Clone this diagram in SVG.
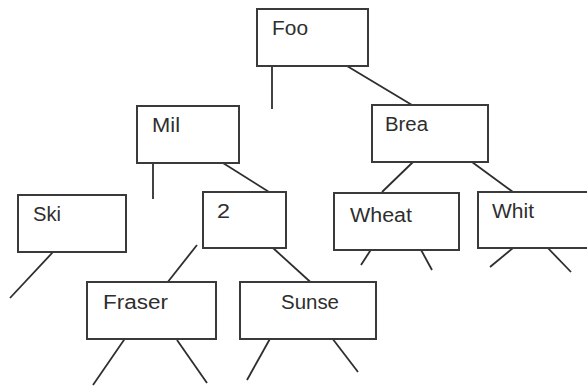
<svg xmlns="http://www.w3.org/2000/svg" width="587" height="387" viewBox="0 0 587 387">
  <style>
    .box { fill: #ffffff; stroke: #3a3a3a; stroke-width: 2; }
    .lbl { font-family: "Liberation Sans", Arial, sans-serif; font-size: 20px; fill: #2e2e2e; }
    .edge { stroke: #2e2e2e; stroke-width: 1.8; fill: none; stroke-linecap: butt; }
  </style>
  <rect width="587" height="387" fill="#ffffff"/>

  <!-- tree branches -->
  <g id="connectors">
    <line class="edge" x1="272" y1="62" x2="272" y2="109"/>
    <line class="edge" x1="347" y1="66" x2="417" y2="108"/>
    <line class="edge" x1="153" y1="163" x2="153" y2="199"/>
    <line class="edge" x1="223" y1="163" x2="277" y2="197"/>
    <line class="edge" x1="53" y1="252" x2="10" y2="298"/>
    <line class="edge" x1="197" y1="245" x2="167" y2="283"/>
    <line class="edge" x1="273" y1="248" x2="317" y2="288"/>
    <line class="edge" x1="413" y1="162" x2="382" y2="192"/>
    <line class="edge" x1="472" y1="162" x2="513" y2="192"/>
    <line class="edge" x1="372" y1="248" x2="361" y2="265"/>
    <line class="edge" x1="420" y1="248" x2="432" y2="270"/>
    <line class="edge" x1="513" y1="248" x2="490" y2="267"/>
    <line class="edge" x1="544" y1="244" x2="571" y2="272"/>
    <line class="edge" x1="126" y1="337" x2="93" y2="385"/>
    <line class="edge" x1="177" y1="340" x2="207" y2="383"/>
    <line class="edge" x1="271" y1="337" x2="247" y2="380"/>
    <line class="edge" x1="332" y1="338" x2="358" y2="372"/>
  </g>

  <g id="node-foo">
    <rect class="box" x="257" y="9" width="111" height="57"/>
    <text class="lbl" x="272" y="35" textLength="36" lengthAdjust="spacingAndGlyphs">Foo</text>
  </g>
  <g id="node-mil">
    <rect class="box" x="137" y="106" width="102" height="57"/>
    <text class="lbl" x="152" y="132" textLength="28" lengthAdjust="spacingAndGlyphs">Mil</text>
  </g>
  <g id="node-brea">
    <rect class="box" x="372" y="105" width="116" height="57"/>
    <text class="lbl" x="385" y="131" textLength="43" lengthAdjust="spacingAndGlyphs">Brea</text>
  </g>
  <g id="node-ski">
    <rect class="box" x="18" y="195" width="108" height="57"/>
    <text class="lbl" x="33" y="221" textLength="28" lengthAdjust="spacingAndGlyphs">Ski</text>
  </g>
  <g id="node-2">
    <rect class="box" x="203" y="192" width="83" height="56"/>
    <text class="lbl" x="217" y="218" textLength="13" lengthAdjust="spacingAndGlyphs">2</text>
  </g>
  <g id="node-wheat">
    <rect class="box" x="334" y="193" width="125" height="57"/>
    <text class="lbl" x="350" y="222" textLength="62" lengthAdjust="spacingAndGlyphs">Wheat</text>
  </g>
  <g id="node-whit">
    <rect class="box" x="478" y="192" width="120" height="56"/>
    <text class="lbl" x="492" y="218" textLength="42" lengthAdjust="spacingAndGlyphs">Whit</text>
  </g>
  <g id="node-fraser">
    <rect class="box" x="87" y="282" width="129" height="57"/>
    <text class="lbl" x="103" y="309" textLength="65" lengthAdjust="spacingAndGlyphs">Fraser</text>
  </g>
  <g id="node-sunse">
    <rect class="box" x="240" y="282" width="136" height="57"/>
    <text class="lbl" x="281" y="309" textLength="58" lengthAdjust="spacingAndGlyphs">Sunse</text>
  </g>
</svg>
